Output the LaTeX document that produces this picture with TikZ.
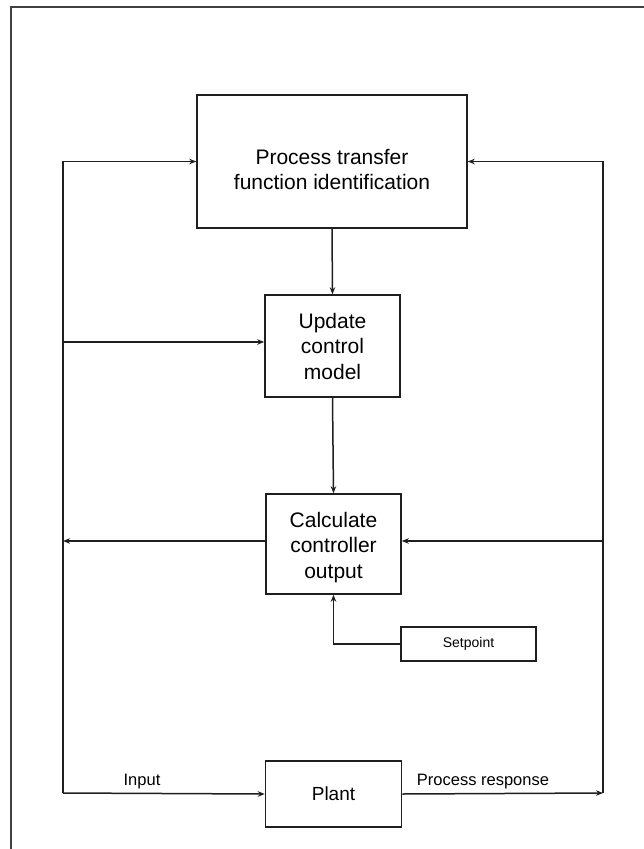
\documentclass[tikz,border=0pt]{standalone}
\usepackage{fontspec}
\setmainfont{Liberation Sans}
\usetikzlibrary{arrows.meta}

\begin{document}
\begin{tikzpicture}[x=1pt,y=-1pt,
  ink/.style={draw=black!88, line width=1.5pt},
  blockbox/.style={ink, rectangle, inner sep=0pt, align=center,
    font=\fontsize{21}{25.5}\selectfont},
  blocktext/.style={inner sep=0pt, align=center,
    font=\fontsize{21}{25.5}\selectfont},
  arr/.style={ink, -{Stealth[length=7pt,width=5.5pt]}},
  lbl/.style={font=\fontsize{16.5}{19}\selectfont, inner sep=0pt}
]
\useasboundingbox (0,0) rectangle (644,849);

% outer frame (top and left edges only)
\draw[draw=black!75, line width=1.9pt] (11,849) -- (11,7) -- (644,7);

% blocks
\node[blockbox, minimum width=270pt, minimum height=133pt] (proc) at (332,161.5) {};
\node[blocktext] (proctext) at (332,169.5) {Process transfer\\function identification};
\node[blockbox, minimum width=135pt, minimum height=102pt] (upd) at (332.5,346)
  {Update\\control\\model};
\node[blockbox, minimum width=135pt, minimum height=100pt] (calc) at (333.5,544) {};
\node[blocktext] (calctext) at (333.5,547.5) {Calculate\\controller\\output};
\node[blockbox, minimum width=135pt, minimum height=34pt,
  font=\fontsize{14}{16}\selectfont] (sp) at (468.5,644) {Setpoint};
\node[blockbox, minimum width=136pt, minimum height=66pt,
  font=\fontsize{19}{22}\selectfont] (plant) at (333.5,794) {Plant};

% bus corners and taps
\coordinate (lb)  at (63,793);
\coordinate (lbu) at (63,342);
\coordinate (lbc) at (63,541);
\coordinate (rb)  at (603,793);
\coordinate (rbc) at (603,541);

% forward path
\draw[arr] (proc.south) -- (upd.north);
\draw[arr] (upd.south) -- (calc.north);
\draw[arr] (sp.west) -| (calc.south);

% plant input and response
\draw[arr] (lb) -- (plant.west);
\draw[arr] (plant.east) -- (rb);

% right bus: process response fed back
\draw[arr] (rb) |- (proc.east);
\draw[arr] (rbc) -- (calc.east |- rbc);

% left bus: controller output / plant input
\draw[arr] (lb) |- (proc.west);
\draw[arr] (lbu) -- (upd.west |- lbu);
\draw[arr] (calc.west |- lbc) -- (lbc);

% labels
\node[lbl] (inlbl) at (142,782) {Input};
\node[lbl] (resplbl) at (483,782) {Process response};
\end{tikzpicture}
\end{document}
